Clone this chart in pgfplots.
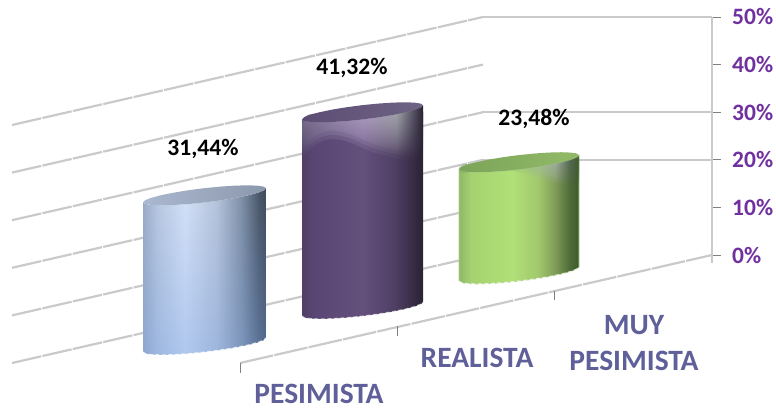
\documentclass[border=0pt]{standalone}
\usepackage{fontspec}
\setmainfont{Carlito}
\usepackage{pgfplots}
\usepackage{pgfplotstable}
\pgfplotsset{compat=1.18}
\usetikzlibrary{fadings}

\definecolor{gridgray}{HTML}{CACACA}
\definecolor{tickpurple}{HTML}{7030A0}
\definecolor{catblue}{HTML}{5F5F9A}

\definecolor{bA}{RGB}{157,172,198}
\definecolor{bB}{RGB}{185,201,224}
\definecolor{bC}{RGB}{213,226,248}
\definecolor{bD}{RGB}{183,196,218}
\definecolor{bE}{RGB}{127,143,165}
\definecolor{bF}{RGB}{75,87,105}
\definecolor{bG}{RGB}{63,74,92}
\definecolor{bTint}{RGB}{120,160,225}
\definecolor{bCapL}{RGB}{170,184,208}
\definecolor{bCapR}{RGB}{140,152,172}

\definecolor{pA}{RGB}{79,62,102}
\definecolor{pB}{RGB}{90,70,116}
\definecolor{pC}{RGB}{100,80,124}
\definecolor{pD}{RGB}{79,63,100}
\definecolor{pE}{RGB}{58,46,72}
\definecolor{pF}{RGB}{42,34,51}
\definecolor{pGa}{RGB}{128,122,148}
\definecolor{pGb}{RGB}{190,172,208}
\definecolor{pGc}{RGB}{178,184,184}
\definecolor{pGd}{RGB}{90,88,104}
\definecolor{pCapL}{RGB}{92,76,116}
\definecolor{pCapR}{RGB}{110,100,132}

\definecolor{gA}{RGB}{143,184,104}
\definecolor{gB}{RGB}{165,210,111}
\definecolor{gC}{RGB}{176,224,120}
\definecolor{gD}{RGB}{162,200,108}
\definecolor{gE}{RGB}{127,156,88}
\definecolor{gF}{RGB}{79,108,56}
\definecolor{gG}{RGB}{63,90,46}
\definecolor{gGa}{RGB}{116,156,88}
\definecolor{gGb}{RGB}{150,190,120}
\definecolor{gGc}{RGB}{172,178,186}
\definecolor{gGd}{RGB}{90,104,96}
\definecolor{gCapL}{RGB}{124,164,88}
\definecolor{gCapR}{RGB}{146,186,104}
\definecolor{gEdge}{RGB}{176,208,144}

% side shading of each cylinder, left to right
\pgfdeclarehorizontalshading{cylblue}{100bp}{
  color(0bp)=(bA); color(25bp)=(bA); color(31bp)=(bB); color(42bp)=(bC);
  color(55bp)=(bD); color(65bp)=(bE); color(72bp)=(bF); color(75bp)=(bG); color(100bp)=(bG)}
\pgfdeclarehorizontalshading{cylpurple}{100bp}{
  color(0bp)=(pA); color(25bp)=(pA); color(30bp)=(pB); color(50bp)=(pC);
  color(63bp)=(pD); color(70bp)=(pE); color(75bp)=(pF); color(100bp)=(pF)}
\pgfdeclarehorizontalshading{cylgreen}{100bp}{
  color(0bp)=(gA); color(25bp)=(gA); color(30bp)=(gB); color(47bp)=(gC);
  color(58bp)=(gD); color(65bp)=(gE); color(71bp)=(gF); color(75bp)=(gG); color(100bp)=(gG)}
% glossy reflections near the top of the purple and green cylinders
\pgfdeclarehorizontalshading{glosspurple}{100bp}{
  color(0bp)=(pGa); color(25bp)=(pGa); color(50bp)=(pGb); color(64bp)=(pGc);
  color(71bp)=(pGd); color(75bp)=(pF); color(100bp)=(pF)}
\pgfdeclarehorizontalshading{glossgreen}{100bp}{
  color(0bp)=(gGa); color(25bp)=(gGa); color(50bp)=(gGb); color(65bp)=(gGc);
  color(71bp)=(gGd); color(75bp)=(gG); color(100bp)=(gG)}

% unit outline of a cylinder: c,s are the cosine and sine round the rim,
% t says whether a point lies on the base (0) or on the top (1)
\pgfplotstableread{
c s t
-1 0 0
-0.966 0.259 0
-0.866 0.5 0
-0.707 0.707 0
-0.5 0.866 0
-0.259 0.966 0
0 1 0
0.259 0.966 0
0.5 0.866 0
0.707 0.707 0
0.866 0.5 0
0.966 0.259 0
1 0 0
1 0 1
0.966 0.259 1
0.866 0.5 1
0.707 0.707 1
0.5 0.866 1
0.259 0.966 1
0 1 1
-0.259 0.966 1
-0.5 0.866 1
-0.707 0.707 1
-0.866 0.5 1
-0.966 0.259 1
-1 0 1
}\bodyoutline
\pgfplotstableread{
c s t
-1 0 1
-0.966 0.259 1
-0.866 0.5 1
-0.707 0.707 1
-0.5 0.866 1
-0.259 0.966 1
0 1 1
0.259 0.966 1
0.5 0.866 1
0.707 0.707 1
0.866 0.5 1
0.966 0.259 1
1 0 1
0.966 -0.259 1
0.866 -0.5 1
0.707 -0.707 1
0.5 -0.866 1
0.259 -0.966 1
0 -1 1
-0.259 -0.966 1
-0.5 -0.866 1
-0.707 -0.707 1
-0.866 -0.5 1
-0.966 -0.259 1
}\capoutline
\pgfplotstableread{
c s t
-1 0 0
-0.966 0.259 0
-0.866 0.5 0
-0.707 0.707 0
-0.5 0.866 0
-0.259 0.966 0
0 1 0
0.259 0.966 0
0.5 0.866 0
0.707 0.707 0
0.866 0.5 0
0.966 0.259 0
1 0 0
}\basearc

% share of each answer with the position of its printed label
\pgfplotstableread{
lx ly value
203 22.27 31.44
352 39.29 41.32
534 28.57 23.48
}\answers

% #1 centre x, #2 half width, #3 floor level of the base, #4 value, #5 style
\newcommand{\cylinderbody}[5]{
  \addplot[#5] table[x expr={#1+#2*\thisrow{c}},
    y expr={#3+#4*\thisrow{t}-1.5*\thisrow{s}+1.47*\thisrow{c}}] {\bodyoutline} -- cycle;
}
\newcommand{\cylindercap}[5]{
  \addplot[#5] table[x expr={#1+#2*\thisrow{c}},
    y expr={#3+#4*\thisrow{t}-1.5*\thisrow{s}+1.47*\thisrow{c}}] {\capoutline} -- cycle;
}
\newcommand{\cylinderrim}[5]{
  \addplot[#5] table[x expr={#1+#2*\thisrow{c}},
    y expr={#3+#4*\thisrow{t}-1.5*\thisrow{s}+1.47*\thisrow{c}}] {\basearc};
}

\begin{document}
\begin{tikzpicture}[x=1pt,y=1pt]
\useasboundingbox (0,0) rectangle (776,407);
\begin{axis}[
  at={(0pt,0pt)}, anchor=south west,
  scale only axis, width=776pt, height=407pt,
  xmin=0, xmax=776, ymin=-31.93, ymax=53.57,
  hide axis, clip=false,
]
% side wall gridlines running back to the corner
\addplot[gridgray, line width=2.2pt, dash pattern=on 30pt off 1.2pt] coordinates {(12,27.31) (483,50)};
\addplot[gridgray, line width=2.2pt, dash pattern=on 30pt off 1.2pt] coordinates {(12,17.31) (483,40)};
\addplot[gridgray, line width=2.2pt, dash pattern=on 30pt off 1.2pt] coordinates {(12,7.31) (483,30)};
\addplot[gridgray, line width=2.2pt, dash pattern=on 30pt off 1.2pt] coordinates {(12,-2.69) (483,20)};
\addplot[gridgray, line width=2.2pt, dash pattern=on 30pt off 1.2pt] coordinates {(12,-12.69) (483,10)};
\addplot[gridgray, line width=2.2pt, dash pattern=on 30pt off 1.2pt] coordinates {(12,-22.69) (483,0)};
% back wall gridlines
\addplot[gridgray, line width=2.5pt] coordinates {(483,50) (712,50)};
\addplot[gridgray, line width=2.5pt] coordinates {(483,30) (712,30)};
\addplot[gridgray, line width=2.5pt] coordinates {(483,20) (712,20)};
% front edge of the floor and its ticks
\addplot[gridgray, line width=2.2pt, dash pattern=on 34pt off 1.2pt] coordinates {(240,-22.69) (712,0)};
\addplot[gray, line width=0.7pt] coordinates {(240,-22.69) (240,-24.79)};
\addplot[gray, line width=0.7pt] coordinates {(397,-14.92) (397,-17.02)};
\addplot[gray, line width=0.7pt] coordinates {(554,-7.56) (554,-9.36)};

% PESIMISTA
\cylinderbody{204.5}{61.5}{-18.9}{31.44}{draw=none, shade, shading=cylblue}
\cylinderbody{204.5}{61.5}{-18.9}{31.44}{draw=none, fill=bTint, fill opacity=0.4, path fading=north}
\cylindercap{204.5}{61.5}{-18.9}{31.44}{draw=none, left color=bCapL, right color=bCapR}
\cylinderrim{204.5}{61.5}{-18.9}{31.44}{white, opacity=0.75, line width=1.2pt, dash pattern=on 4pt off 2.5pt}

% REALISTA: the reflection is built from three nested layers for a soft edge
\cylinderbody{362.5}{60.5}{-11.34}{41.32}{draw=none, shade, shading=cylpurple}
\addplot[draw=none, shade, shading=glosspurple, path fading=south, opacity=0.5, rounded corners=9pt] coordinates {
  (302,29.41) (423,31.9) (423,19.36) (407,19.78) (373,21.46) (347,23.98) (327,24.61) (310,22.51) (302,19.99)} -- cycle;
\addplot[draw=none, shade, shading=glosspurple, path fading=south, opacity=0.5, rounded corners=9pt] coordinates {
  (302,29.41) (423,31.9) (423,20.26) (407,20.68) (373,22.36) (347,24.88) (327,25.51) (310,23.41) (302,20.89)} -- cycle;
\addplot[draw=none, shade, shading=glosspurple, path fading=south, opacity=0.5, rounded corners=9pt] coordinates {
  (302,29.41) (423,31.9) (423,21.16) (407,21.58) (373,23.26) (347,25.78) (327,26.41) (310,24.31) (302,21.79)} -- cycle;
\cylindercap{362.5}{60.5}{-11.34}{41.32}{draw=none, left color=pCapL, right color=pCapR}
\cylinderrim{362.5}{60.5}{-11.34}{41.32}{white, opacity=0.6, line width=1.2pt, dash pattern=on 4pt off 2.5pt}

% MUY PESIMISTA
\cylinderbody{519}{60}{-3.99}{23.48}{draw=gEdge, line width=0.6pt, shade, shading=cylgreen}
\addplot[draw=none, shade, shading=glossgreen, path fading=south, opacity=0.6, rounded corners=6pt] coordinates {
  (459,18.91) (579,21.5) (579,13.89) (545,15.78) (520,17.46) (490,18.09) (459,17.04)} -- cycle;
\addplot[draw=none, shade, shading=glossgreen, path fading=south, opacity=0.6, rounded corners=6pt] coordinates {
  (459,18.91) (579,21.5) (579,14.79) (545,16.68) (520,18.36) (490,18.7) (459,17.84)} -- cycle;
\cylindercap{519}{60}{-3.99}{23.48}{draw=none, left color=gCapL, right color=gCapR}
\cylinderrim{519}{60}{-3.99}{23.48}{white, opacity=0.75, line width=1.2pt, dash pattern=on 4pt off 2.5pt}

% value labels above the cylinders
\addplot[draw=none, mark=none, point meta=\thisrow{value},
  nodes near coords={\pgfmathprintnumber[assume math mode=true, fixed, fixed zerofill, precision=2, use comma]{\pgfplotspointmeta}\%},
  every node near coord/.append style={anchor=center, black, inner sep=0pt, font=\fontsize{23.6}{27}\selectfont\bfseries},
] table[x=lx, y=ly] {\answers};

% category names under the floor edge
\addplot[draw=none, mark=none, point meta=explicit symbolic,
  nodes near coords,
  every node near coord/.append style={anchor=center, catblue, inner sep=0pt, align=center, font=\fontsize{29.5}{36}\selectfont\bfseries},
] coordinates {
  (319,-29.1)[PESIMISTA]
  (477,-21.64)[REALISTA]
  (634,-18.49)[{MUY\\PESIMISTA}]
};
\end{axis}

% percentage scale at the right of the back wall
\begin{axis}[
  at={(711pt,144pt)}, anchor=south west,
  scale only axis, width=1pt, height=246pt,
  xmin=0, xmax=1, ymin=-1.68, ymax=50,
  axis x line=none,
  axis y line=right,
  axis line style={gridgray, line width=2.2pt, -},
  ytick={0,10,20,30,40,50},
  yticklabels={0\%,10\%,20\%,30\%,40\%,50\%},
  tick align=outside,
  major tick length=9pt,
  tick style={gray, line width=0.7pt},
  yticklabel style={anchor=west, tickpurple, inner sep=0pt, xshift=11pt, font=\fontsize{23.5}{27}\selectfont\bfseries},
]
\end{axis}
\end{tikzpicture}
\end{document}
